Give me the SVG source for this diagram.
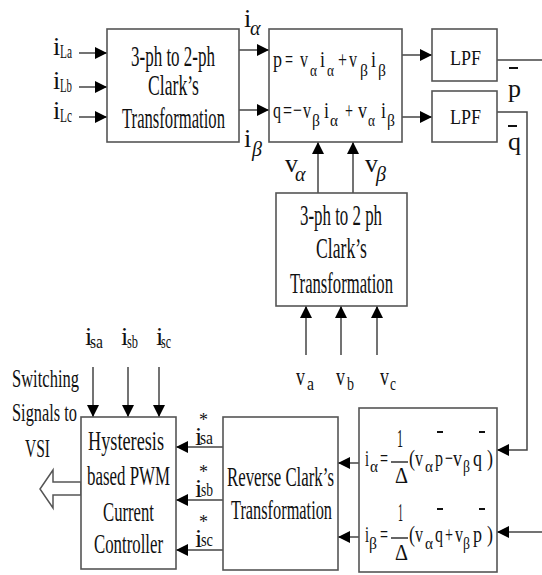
<svg xmlns="http://www.w3.org/2000/svg" width="542" height="575" viewBox="0 0 542 575">
<style>
text{font-family:"Liberation Serif","Times New Roman",serif;fill:#111}
.box{fill:#fff;stroke:#555;stroke-width:1.6}
.ln{fill:none;stroke:#444;stroke-width:1.5}
.eq{font-size:24px}
.sb{font-size:17px}
.lab{font-size:26px}
.gr{font-style:italic}
.ob{stroke:#111;stroke-width:2}
</style>
<defs>
<marker id="ah" viewBox="0 0 12 12" refX="12" refY="6" markerWidth="12" markerHeight="13" markerUnits="userSpaceOnUse" orient="auto">
<path d="M0,0 L12,6 L0,12 z" fill="#000"/>
</marker>
</defs>

<g id="connectors">
<line class="ln" x1="79" y1="53" x2="107" y2="53" marker-end="url(#ah)"/>
<line class="ln" x1="79" y1="87" x2="107" y2="87" marker-end="url(#ah)"/>
<line class="ln" x1="79" y1="117" x2="107" y2="117" marker-end="url(#ah)"/>
<line class="ln" x1="239" y1="50" x2="269" y2="50" marker-end="url(#ah)"/>
<line class="ln" x1="239" y1="110" x2="269" y2="110" marker-end="url(#ah)"/>
<line class="ln" x1="402" y1="55" x2="432" y2="55" marker-end="url(#ah)"/>
<line class="ln" x1="402" y1="117" x2="432" y2="117" marker-end="url(#ah)"/>
<line class="ln" x1="497" y1="60" x2="542" y2="60"/>
<polyline class="ln" points="497,112 527,112 527,450 497,450" marker-end="url(#ah)"/>
<line class="ln" x1="542" y1="532" x2="497" y2="532" marker-end="url(#ah)"/>
<line class="ln" x1="318" y1="193" x2="318" y2="142" marker-end="url(#ah)"/>
<line class="ln" x1="353" y1="193" x2="353" y2="142" marker-end="url(#ah)"/>
<line class="ln" x1="306" y1="355" x2="306" y2="306" marker-end="url(#ah)"/>
<line class="ln" x1="341" y1="355" x2="341" y2="306" marker-end="url(#ah)"/>
<line class="ln" x1="377" y1="355" x2="377" y2="306" marker-end="url(#ah)"/>
<line class="ln" x1="93" y1="367" x2="93" y2="417" marker-end="url(#ah)"/>
<line class="ln" x1="128" y1="367" x2="128" y2="417" marker-end="url(#ah)"/>
<line class="ln" x1="159" y1="367" x2="159" y2="417" marker-end="url(#ah)"/>
<line class="ln" x1="223" y1="447" x2="176" y2="447" marker-end="url(#ah)"/>
<line class="ln" x1="223" y1="500" x2="176" y2="500" marker-end="url(#ah)"/>
<line class="ln" x1="223" y1="550" x2="176" y2="550" marker-end="url(#ah)"/>
<line class="ln" x1="359" y1="463" x2="338" y2="463" marker-end="url(#ah)"/>
<line class="ln" x1="359" y1="537" x2="338" y2="537" marker-end="url(#ah)"/>
<polygon points="81,482 53,482 53,470 40,489 53,508 53,495 81,495" fill="#fff" stroke="#555" stroke-width="1.5"/>
</g>

<g id="labels">
<text class="lab" x="53" y="55">i<tspan x="60" y="58" font-size="19" textLength="12" lengthAdjust="spacingAndGlyphs">La</tspan></text>
<text class="lab" x="53" y="89">i<tspan x="60" y="92" font-size="19" textLength="12" lengthAdjust="spacingAndGlyphs">Lb</tspan></text>
<text class="lab" x="53" y="119">i<tspan x="60" y="122" font-size="19" textLength="12" lengthAdjust="spacingAndGlyphs">Lc</tspan></text>
<text class="lab" x="244" y="27">i<tspan class="gr" x="250" y="35" font-size="20">α</tspan></text>
<text class="lab" x="244" y="147">i<tspan class="gr" x="252" y="156" font-size="20">β</tspan></text>
<text class="lab" x="285" y="172">v<tspan class="gr" x="295" y="181" font-size="20">α</tspan></text>
<text class="lab" x="365" y="172">v<tspan class="gr" x="376" y="181" font-size="20">β</tspan></text>
<text class="lab" x="296" y="385" textLength="9" lengthAdjust="spacingAndGlyphs">v</text>
<text x="307" y="390" font-size="19" textLength="7" lengthAdjust="spacingAndGlyphs">a</text>
<text class="lab" x="336" y="385" textLength="9" lengthAdjust="spacingAndGlyphs">v</text>
<text x="347" y="390" font-size="19" textLength="7" lengthAdjust="spacingAndGlyphs">b</text>
<text class="lab" x="380" y="385" textLength="9" lengthAdjust="spacingAndGlyphs">v</text>
<text x="390" y="390" font-size="19" textLength="6" lengthAdjust="spacingAndGlyphs">c</text>
<text class="lab" x="85" y="345">i<tspan x="90" y="348" font-size="19" textLength="13" lengthAdjust="spacingAndGlyphs">sa</tspan></text>
<text class="lab" x="121" y="345">i<tspan x="127" y="348" font-size="19" textLength="11" lengthAdjust="spacingAndGlyphs">sb</tspan></text>
<text class="lab" x="156" y="345">i<tspan x="161" y="348" font-size="19" textLength="10" lengthAdjust="spacingAndGlyphs">sc</tspan></text>
<text class="lab" x="195" y="445">i<tspan x="200" y="444" font-size="19" textLength="13" lengthAdjust="spacingAndGlyphs">sa</tspan><tspan x="199" y="426" font-size="18">*</tspan></text>
<text class="lab" x="195" y="497">i<tspan x="201" y="496" font-size="19" textLength="12" lengthAdjust="spacingAndGlyphs">sb</tspan><tspan x="199" y="478" font-size="18">*</tspan></text>
<text class="lab" x="195" y="547">i<tspan x="201" y="546" font-size="19" textLength="12" lengthAdjust="spacingAndGlyphs">sc</tspan><tspan x="199" y="528" font-size="18">*</tspan></text>
<line class="ob" x1="509" y1="68" x2="518" y2="68"/>
<text class="lab" x="508" y="97">p</text>
<line class="ob" x1="508" y1="126" x2="517" y2="126"/>
<text class="lab" x="508" y="150">q</text>
<text font-size="26" x="12" y="387" textLength="67" lengthAdjust="spacingAndGlyphs">Switching</text>
<text font-size="26" x="12" y="421" textLength="65" lengthAdjust="spacingAndGlyphs">Signals to</text>
<text font-size="26" x="25" y="457" textLength="25" lengthAdjust="spacingAndGlyphs">VSI</text>
</g>

<g id="clark1">
<rect class="box" x="107" y="29" width="132" height="113"/>
<text font-size="30" x="131" y="66" textLength="84" lengthAdjust="spacingAndGlyphs">3-ph to 2-ph</text>
<text font-size="30" x="148" y="95" textLength="51" lengthAdjust="spacingAndGlyphs">Clark’s</text>
<text font-size="30" x="122" y="128" textLength="103" lengthAdjust="spacingAndGlyphs">Transformation</text>
</g>

<g id="pq">
<rect class="box" x="269" y="29" width="133" height="113"/>
<text class="eq" y="67"><tspan x="273" textLength="9" lengthAdjust="spacingAndGlyphs">p</tspan><tspan x="285" textLength="8" lengthAdjust="spacingAndGlyphs">=</tspan><tspan x="300" textLength="8" lengthAdjust="spacingAndGlyphs">v</tspan><tspan class="sb" x="310" y="76" textLength="7" lengthAdjust="spacingAndGlyphs">α</tspan><tspan x="320" y="67" textLength="5" lengthAdjust="spacingAndGlyphs">i</tspan><tspan class="sb" x="327" y="76" textLength="7" lengthAdjust="spacingAndGlyphs">α</tspan><tspan x="338" y="67" textLength="9" lengthAdjust="spacingAndGlyphs">+</tspan><tspan x="349" textLength="8" lengthAdjust="spacingAndGlyphs">v</tspan><tspan class="sb" x="360" y="76" textLength="8" lengthAdjust="spacingAndGlyphs">β</tspan><tspan x="371" y="67" textLength="5" lengthAdjust="spacingAndGlyphs">i</tspan><tspan class="sb" x="378" y="76" textLength="8" lengthAdjust="spacingAndGlyphs">β</tspan></text>
<text class="eq" y="118"><tspan x="273" textLength="8" lengthAdjust="spacingAndGlyphs">q</tspan><tspan x="283" textLength="9" lengthAdjust="spacingAndGlyphs">=</tspan><tspan x="293" textLength="9" lengthAdjust="spacingAndGlyphs">−</tspan><tspan x="303" textLength="8" lengthAdjust="spacingAndGlyphs">v</tspan><tspan class="sb" x="312" y="126" textLength="8" lengthAdjust="spacingAndGlyphs">β</tspan><tspan x="324" y="118" textLength="5" lengthAdjust="spacingAndGlyphs">i</tspan><tspan class="sb" x="330" y="126" textLength="8" lengthAdjust="spacingAndGlyphs">α</tspan><tspan x="345" y="118" textLength="8" lengthAdjust="spacingAndGlyphs">+</tspan><tspan x="358" textLength="9" lengthAdjust="spacingAndGlyphs">v</tspan><tspan class="sb" x="368" y="126" textLength="7" lengthAdjust="spacingAndGlyphs">α</tspan><tspan x="381" y="118" textLength="5" lengthAdjust="spacingAndGlyphs">i</tspan><tspan class="sb" x="387" y="126" textLength="8" lengthAdjust="spacingAndGlyphs">β</tspan></text>
</g>

<g id="lpf1">
<rect class="box" x="432" y="29" width="65" height="52"/>
<text font-size="21" x="450" y="65" textLength="31" lengthAdjust="spacingAndGlyphs">LPF</text>
</g>

<g id="lpf2">
<rect class="box" x="432" y="91" width="65" height="51"/>
<text font-size="21" x="450" y="124" textLength="31" lengthAdjust="spacingAndGlyphs">LPF</text>
</g>

<g id="clark2">
<rect class="box" x="276" y="193" width="131" height="113"/>
<text font-size="30" x="300" y="225" textLength="82" lengthAdjust="spacingAndGlyphs">3-ph to 2 ph</text>
<text font-size="30" x="316" y="258" textLength="51" lengthAdjust="spacingAndGlyphs">Clark’s</text>
<text font-size="30" x="290" y="293" textLength="103" lengthAdjust="spacingAndGlyphs">Transformation</text>
</g>

<g id="hysteresis">
<rect class="box" x="81" y="417" width="95" height="152"/>
<text font-size="27" x="88" y="450" textLength="76" lengthAdjust="spacingAndGlyphs">Hysteresis</text>
<text font-size="27" x="87" y="485" textLength="83" lengthAdjust="spacingAndGlyphs">based PWM</text>
<text font-size="27" x="103" y="521" textLength="51" lengthAdjust="spacingAndGlyphs">Current</text>
<text font-size="27" x="94" y="553" textLength="69" lengthAdjust="spacingAndGlyphs">Controller</text>
</g>

<g id="reverse">
<rect class="box" x="223" y="417" width="115" height="153"/>
<text font-size="28" x="227" y="486" textLength="107" lengthAdjust="spacingAndGlyphs">Reverse Clark’s</text>
<text font-size="28" x="231" y="519" textLength="101" lengthAdjust="spacingAndGlyphs">Transformation</text>
</g>

<g id="formulas">
<rect class="box" x="359" y="408" width="138" height="164"/>
<text class="eq" y="466"><tspan x="365" textLength="4" lengthAdjust="spacingAndGlyphs">i</tspan><tspan class="sb" x="370" y="472" textLength="8" lengthAdjust="spacingAndGlyphs">α</tspan><tspan x="380" y="466" textLength="8" lengthAdjust="spacingAndGlyphs">=</tspan><tspan x="397" y="447" font-size="25" textLength="6" lengthAdjust="spacingAndGlyphs">1</tspan><tspan x="395" y="483" textLength="13" lengthAdjust="spacingAndGlyphs">Δ</tspan><tspan x="409" y="466" textLength="6" lengthAdjust="spacingAndGlyphs">(</tspan><tspan x="415" textLength="8" lengthAdjust="spacingAndGlyphs">v</tspan><tspan class="sb" x="425" y="472" textLength="8" lengthAdjust="spacingAndGlyphs">α</tspan><tspan x="435" y="466" textLength="8" lengthAdjust="spacingAndGlyphs">p</tspan><tspan x="445" textLength="8" lengthAdjust="spacingAndGlyphs">−</tspan><tspan x="453" textLength="9" lengthAdjust="spacingAndGlyphs">v</tspan><tspan class="sb" x="463" y="472" textLength="7" lengthAdjust="spacingAndGlyphs">β</tspan><tspan x="473" y="466" textLength="9" lengthAdjust="spacingAndGlyphs">q</tspan><tspan x="487" textLength="6" lengthAdjust="spacingAndGlyphs">)</tspan></text>
<line x1="391" y1="462" x2="408" y2="462" stroke="#111" stroke-width="1.3"/>
<line class="ob" x1="437" y1="432" x2="443" y2="432"/>
<line class="ob" x1="479" y1="432" x2="485" y2="432"/>
<text class="eq" y="542"><tspan x="365" textLength="4" lengthAdjust="spacingAndGlyphs">i</tspan><tspan class="sb" x="369" y="549" textLength="8" lengthAdjust="spacingAndGlyphs">β</tspan><tspan x="380" y="542" textLength="8" lengthAdjust="spacingAndGlyphs">=</tspan><tspan x="398" y="521" font-size="25" textLength="5" lengthAdjust="spacingAndGlyphs">1</tspan><tspan x="395" y="560" textLength="13" lengthAdjust="spacingAndGlyphs">Δ</tspan><tspan x="409" y="542" textLength="6" lengthAdjust="spacingAndGlyphs">(</tspan><tspan x="415" textLength="8" lengthAdjust="spacingAndGlyphs">v</tspan><tspan class="sb" x="425" y="549" textLength="8" lengthAdjust="spacingAndGlyphs">α</tspan><tspan x="435" y="542" textLength="8" lengthAdjust="spacingAndGlyphs">q</tspan><tspan x="445" textLength="8" lengthAdjust="spacingAndGlyphs">+</tspan><tspan x="455" textLength="8" lengthAdjust="spacingAndGlyphs">v</tspan><tspan class="sb" x="463" y="549" textLength="7" lengthAdjust="spacingAndGlyphs">β</tspan><tspan x="473" y="542" textLength="9" lengthAdjust="spacingAndGlyphs">p</tspan><tspan x="487" textLength="6" lengthAdjust="spacingAndGlyphs">)</tspan></text>
<line x1="391" y1="538" x2="408" y2="538" stroke="#111" stroke-width="1.3"/>
<line class="ob" x1="437" y1="509" x2="443" y2="509"/>
<line class="ob" x1="479" y1="509" x2="485" y2="509"/>
</g>
</svg>
